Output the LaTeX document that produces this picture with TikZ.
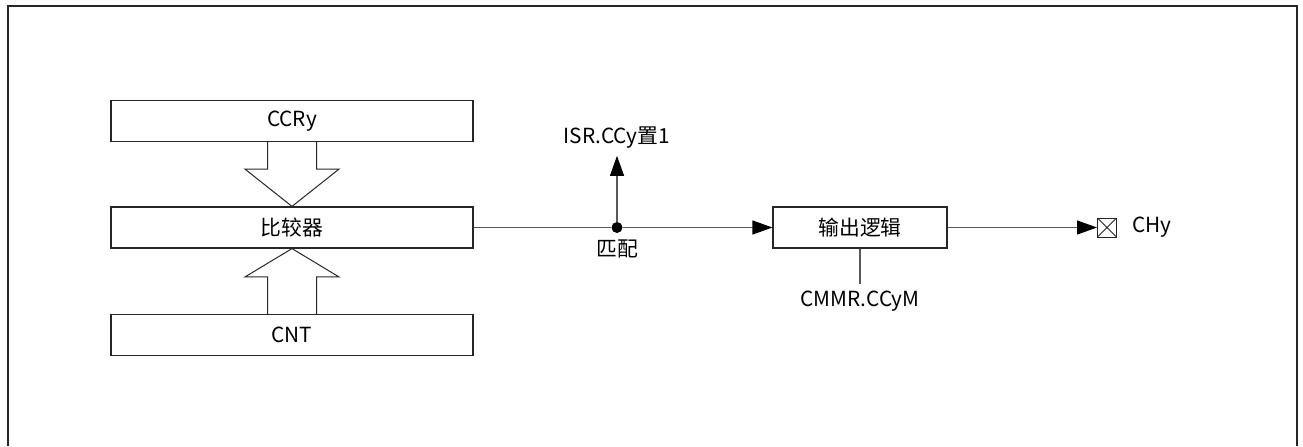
\documentclass[tikz,border=0pt]{standalone}
\usepackage{fontspec}
\setmainfont{Noto Sans CJK SC}
\usetikzlibrary{arrows.meta,positioning,calc}

\begin{document}
\begin{tikzpicture}[x=0.5pt, y=-0.5pt,
	>={Triangle[length=10pt,width=7pt,color=black]},   % filled arrow tips
	font=\fontsize{10.4}{12}\selectfont,
	box/.style={draw=black!85, line width=0.6pt, minimum width=181pt, minimum height=20.5pt, inner sep=0pt},
	wire/.style={draw=black!65, line width=0.6pt},
	fat/.style={draw=black!85, line width=0.5pt, line join=miter},
	dot/.style={circle, fill=black, minimum size=5.5pt, inner sep=0pt},
	pinbox/.style={draw=black!85, line width=0.5pt, minimum size=9.5pt, inner sep=0pt,
		path picture={\draw[line width=0.4pt] (path picture bounding box.north west) -- (path picture bounding box.south east)
			(path picture bounding box.north east) -- (path picture bounding box.south west);}}]
	\useasboundingbox (0,0) rectangle (1303,446);
	% outer frame
	\draw[black!85, line width=0.7pt] (8,446) -- (8,6) -- (1297,6) -- (1297,446);
	% blocks
	\node[box] (ccr) at (292,121) {CCRy};
	\node[box] (cmp) at (292,227.5) {比较器};
	\node[box] (cnt) at (292,335) {CNT};
	\node[box, minimum width=87pt] (logic) at (860,227.5) {输出逻辑};
	% labels
	\node[dot] (match) at (617,227.5) {};
	\node (isr) at (617,138) {ISR.CCy置1};
	\node (matchlbl) at (617,249) {匹配};
	\node[pinbox] (pin) at (1107,227.5) {};
	\node[right=4pt of pin] (chy) {CHy};
	\node (cmmr) at (860,301) {CMMR.CCyM};
	% hollow arrows into the comparator
	\draw[fat] ($(ccr.south)+(-24.5,0)$) -- ++(0,27) -- ++(-22.5,0) -- (cmp.north)
		-- ($(ccr.south)+(47,27)$) -- ++(-22.5,0) -- ++(0,-27);
	\draw[fat] ($(cnt.north)+(-24.5,0)$) -- ++(0,-37) -- ++(-22.5,0) -- (cmp.south)
		-- ($(cnt.north)+(47,-37)$) -- ++(-22.5,0) -- ++(0,37);
	% connectors
	\draw[wire] (cmp.east) -- (match);
	\draw[wire,->] (match) -- (logic.west);
	\draw[wire,->] (match) -- (isr.south);
	\draw[wire,->] (logic.east) -- (pin.west);
	\draw[wire] (logic.south) -- (cmmr.north);
\end{tikzpicture}
\end{document}
